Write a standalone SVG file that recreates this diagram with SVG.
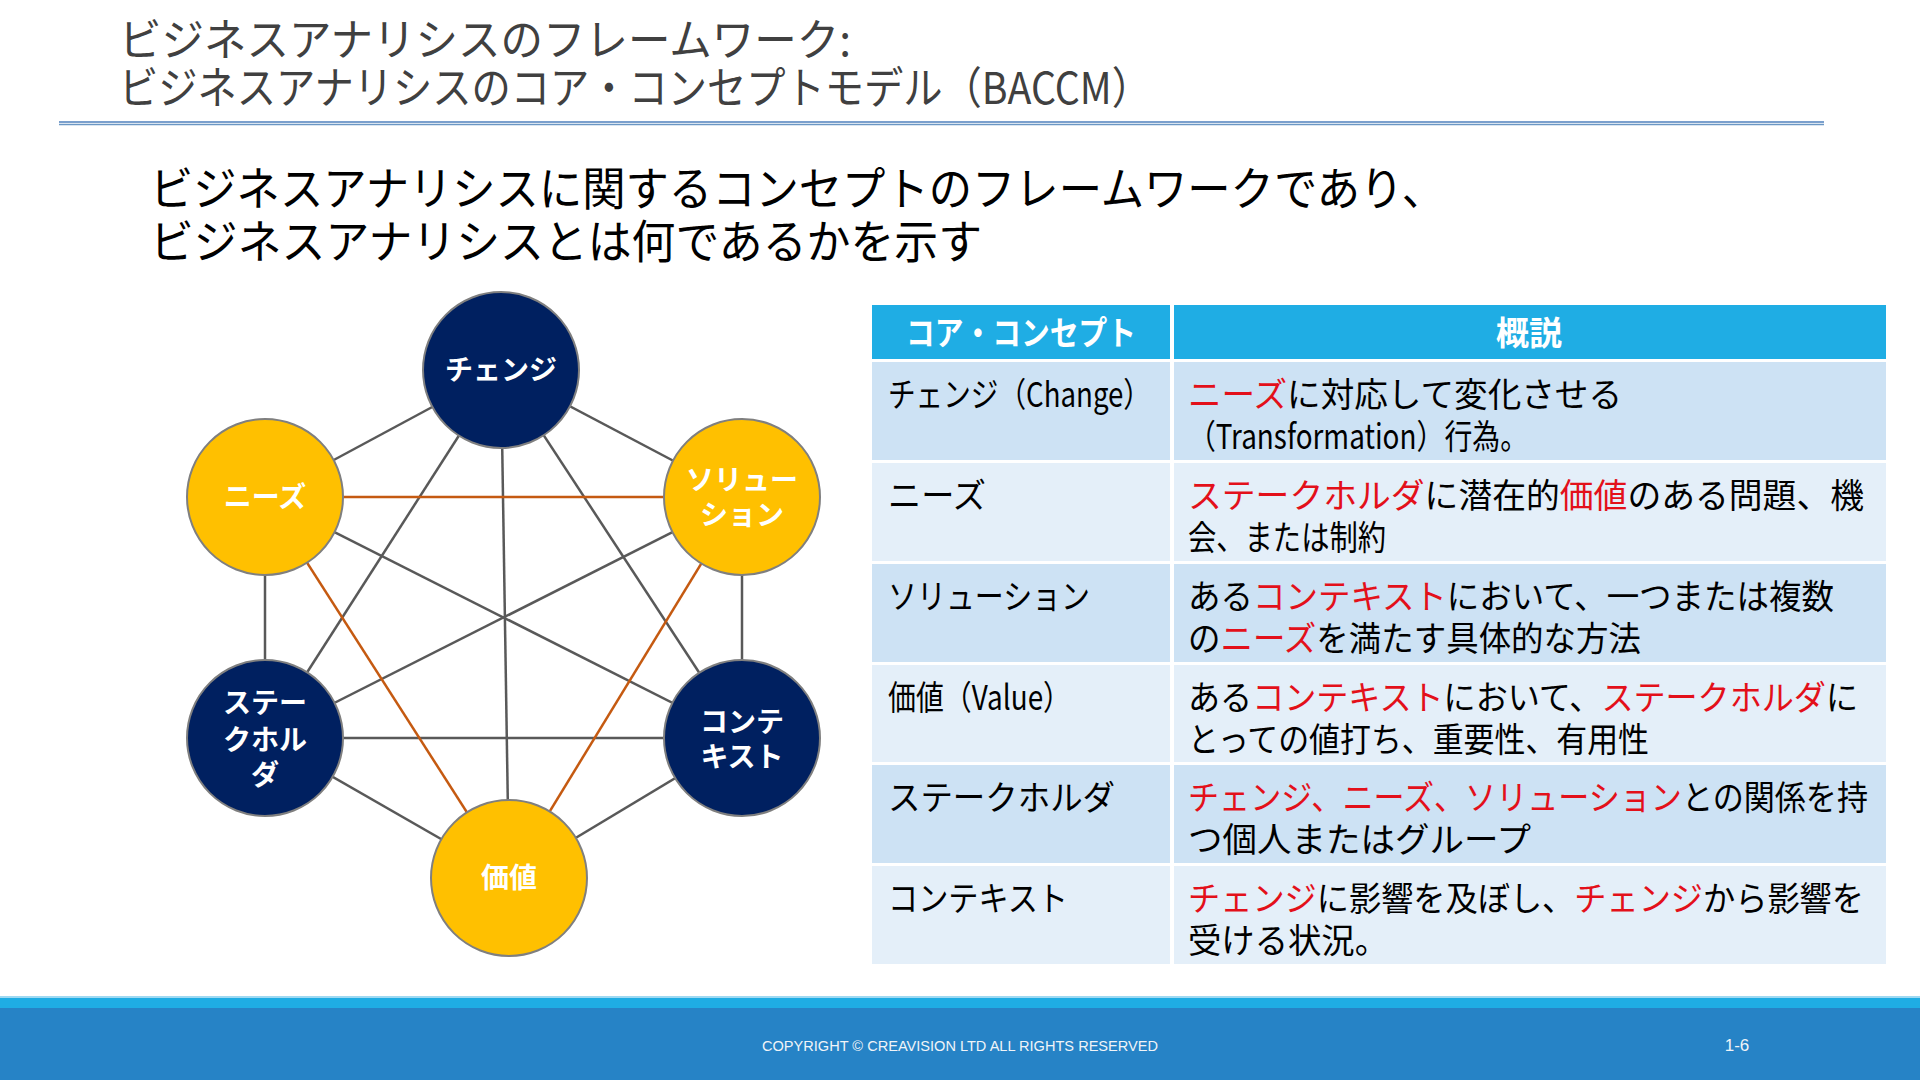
<svg xmlns="http://www.w3.org/2000/svg" width="1920" height="1080" viewBox="0 0 1920 1080">
<style>
text{font-family:"Noto Sans CJK JP","Noto Sans",sans-serif;}
.title{font-size:44px;fill:#404040;}
.sub{font-size:46px;fill:#000;}
.lbl{font-size:28px;font-weight:700;fill:#fff;text-anchor:middle;}
.th{font-size:33px;font-weight:700;fill:#fff;text-anchor:middle;}
.td{font-size:34px;fill:#000;}
.r{fill:#e3101a;}
.navy{fill:#002060;stroke:#7f7f7f;stroke-width:2;}
.gold{fill:#ffc000;stroke:#7f7f7f;stroke-width:2;}
.g{stroke:#595959;stroke-width:2.5;}
.o{stroke:#c55a11;stroke-width:2.5;}
.hd{fill:#1fade4;}
.odd{fill:#cde2f4;}
.even{fill:#e4eff9;}
</style>
<rect width="1920" height="1080" fill="#fff"/>
<g id="title">
<text class="title" x="119" y="56" textLength="732" lengthAdjust="spacingAndGlyphs">ビジネスアナリシスのフレームワーク:</text>
<text class="title" x="119" y="104" textLength="1032" lengthAdjust="spacingAndGlyphs">ビジネスアナリシスのコア・コンセプトモデル（BACCM）</text>
</g>
<line x1="59" y1="122" x2="1824" y2="122" stroke="#4f81bd" stroke-width="1.5"/>
<line x1="59" y1="124.5" x2="1824" y2="124.5" stroke="#6b97c4" stroke-width="1.5"/>
<g id="subtitle">
<text class="sub" x="150" y="205" textLength="1295" lengthAdjust="spacingAndGlyphs">ビジネスアナリシスに関するコンセプトのフレームワークであり、</text>
<text class="sub" x="150" y="258" textLength="832" lengthAdjust="spacingAndGlyphs">ビジネスアナリシスとは何であるかを示す</text>
</g>
<g id="connectors">
<line class="g" x1="501" y1="370" x2="265" y2="497"/>
<line class="g" x1="501" y1="370" x2="742" y2="497"/>
<line class="g" x1="501" y1="370" x2="265" y2="738"/>
<line class="g" x1="501" y1="370" x2="742" y2="738"/>
<line class="g" x1="501" y1="370" x2="509" y2="878"/>
<line class="g" x1="265" y1="497" x2="265" y2="738"/>
<line class="g" x1="265" y1="497" x2="742" y2="738"/>
<line class="g" x1="742" y1="497" x2="265" y2="738"/>
<line class="g" x1="742" y1="497" x2="742" y2="738"/>
<line class="g" x1="265" y1="738" x2="742" y2="738"/>
<line class="g" x1="265" y1="738" x2="509" y2="878"/>
<line class="g" x1="742" y1="738" x2="509" y2="878"/>
<line class="o" x1="265" y1="497" x2="742" y2="497"/>
<line class="o" x1="265" y1="497" x2="509" y2="878"/>
<line class="o" x1="742" y1="497" x2="509" y2="878"/>
</g>
<g id="node-change"><circle class="navy" cx="501" cy="370" r="78"/><text class="lbl" x="501" y="380">チェンジ</text></g>
<g id="node-needs"><circle class="gold" cx="265" cy="497" r="78"/><text class="lbl" x="265" y="507">ニーズ</text></g>
<g id="node-solution"><circle class="gold" cx="742" cy="497" r="78"/><text class="lbl" x="742" y="490">ソリュー</text><text class="lbl" x="742" y="525">ション</text></g>
<g id="node-stakeholder"><circle class="navy" cx="265" cy="738" r="78"/><text class="lbl" x="265" y="713">ステー</text><text class="lbl" x="265" y="750">クホル</text><text class="lbl" x="265" y="785">ダ</text></g>
<g id="node-context"><circle class="navy" cx="742" cy="738" r="78"/><text class="lbl" x="742" y="732">コンテ</text><text class="lbl" x="742" y="767">キスト</text></g>
<g id="node-value"><circle class="gold" cx="509" cy="878" r="78"/><text class="lbl" x="509" y="888">価値</text></g>
<g id="table">
<rect class="hd" x="872" y="305" width="298" height="54"/>
<rect class="hd" x="1174" y="305" width="712" height="54"/>
<text class="th" x="1021" y="345" textLength="230" lengthAdjust="spacingAndGlyphs">コア・コンセプト</text>
<text class="th" x="1529" y="345">概説</text>
<rect class="odd" x="872" y="362" width="298" height="98"/><rect class="odd" x="1174" y="362" width="712" height="98"/>
<rect class="even" x="872" y="463" width="298" height="98"/><rect class="even" x="1174" y="463" width="712" height="98"/>
<rect class="odd" x="872" y="564" width="298" height="98"/><rect class="odd" x="1174" y="564" width="712" height="98"/>
<rect class="even" x="872" y="665" width="298" height="97"/><rect class="even" x="1174" y="665" width="712" height="97"/>
<rect class="odd" x="872" y="765" width="298" height="98"/><rect class="odd" x="1174" y="765" width="712" height="98"/>
<rect class="even" x="872" y="866" width="298" height="98"/><rect class="even" x="1174" y="866" width="712" height="98"/>

<text class="td" x="888" y="407" textLength="263" lengthAdjust="spacingAndGlyphs">チェンジ（Change）</text>
<text class="td" x="1188" y="407" textLength="434" lengthAdjust="spacingAndGlyphs"><tspan class="r">ニーズ</tspan>に対応して変化させる</text>
<text class="td" x="1188" y="449" textLength="340" lengthAdjust="spacingAndGlyphs">（Transformation）行為。</text>

<text class="td" x="888" y="508" textLength="98" lengthAdjust="spacingAndGlyphs">ニーズ</text>
<text class="td" x="1188" y="508" textLength="676" lengthAdjust="spacingAndGlyphs"><tspan class="r">ステークホルダ</tspan>に潜在的<tspan class="r">価値</tspan>のある問題、機</text>
<text class="td" x="1188" y="550" textLength="198" lengthAdjust="spacingAndGlyphs">会、または制約</text>

<text class="td" x="888" y="609" textLength="202" lengthAdjust="spacingAndGlyphs">ソリューション</text>
<text class="td" x="1188" y="609" textLength="646" lengthAdjust="spacingAndGlyphs">ある<tspan class="r">コンテキスト</tspan>において、一つまたは複数</text>
<text class="td" x="1188" y="651" textLength="453" lengthAdjust="spacingAndGlyphs">の<tspan class="r">ニーズ</tspan>を満たす具体的な方法</text>

<text class="td" x="888" y="710" textLength="183" lengthAdjust="spacingAndGlyphs">価値（Value）</text>
<text class="td" x="1188" y="710" textLength="670" lengthAdjust="spacingAndGlyphs">ある<tspan class="r">コンテキスト</tspan>において、<tspan class="r">ステークホルダ</tspan>に</text>
<text class="td" x="1188" y="752" textLength="461" lengthAdjust="spacingAndGlyphs">とっての値打ち、重要性、有用性</text>

<text class="td" x="888" y="810" textLength="227" lengthAdjust="spacingAndGlyphs">ステークホルダ</text>
<text class="td" x="1188" y="810" textLength="680" lengthAdjust="spacingAndGlyphs"><tspan class="r">チェンジ、ニーズ、ソリューション</tspan>との関係を持</text>
<text class="td" x="1188" y="852" textLength="343" lengthAdjust="spacingAndGlyphs">つ個人またはグループ</text>

<text class="td" x="888" y="911" textLength="180" lengthAdjust="spacingAndGlyphs">コンテキスト</text>
<text class="td" x="1188" y="911" textLength="676" lengthAdjust="spacingAndGlyphs"><tspan class="r">チェンジ</tspan>に影響を及ぼし、<tspan class="r">チェンジ</tspan>から影響を</text>
<text class="td" x="1188" y="953" textLength="200" lengthAdjust="spacingAndGlyphs">受ける状況。</text>
</g>
<g id="footer">
<rect x="0" y="996" width="1920" height="2" fill="#9fd9f2"/>
<rect x="0" y="998" width="1920" height="10" fill="#1fade4"/>
<rect x="0" y="1008" width="1920" height="72" fill="#2683c6"/>
<text x="960" y="1051" font-size="15" fill="#f0f4f8" text-anchor="middle" textLength="396" lengthAdjust="spacingAndGlyphs" style="font-family:'Liberation Sans',sans-serif">COPYRIGHT © CREAVISION LTD ALL RIGHTS RESERVED</text>
<text x="1737" y="1051" font-size="17" fill="#f0f4f8" text-anchor="middle" style="font-family:'Liberation Sans',sans-serif">1-6</text>
</g>
</svg>
